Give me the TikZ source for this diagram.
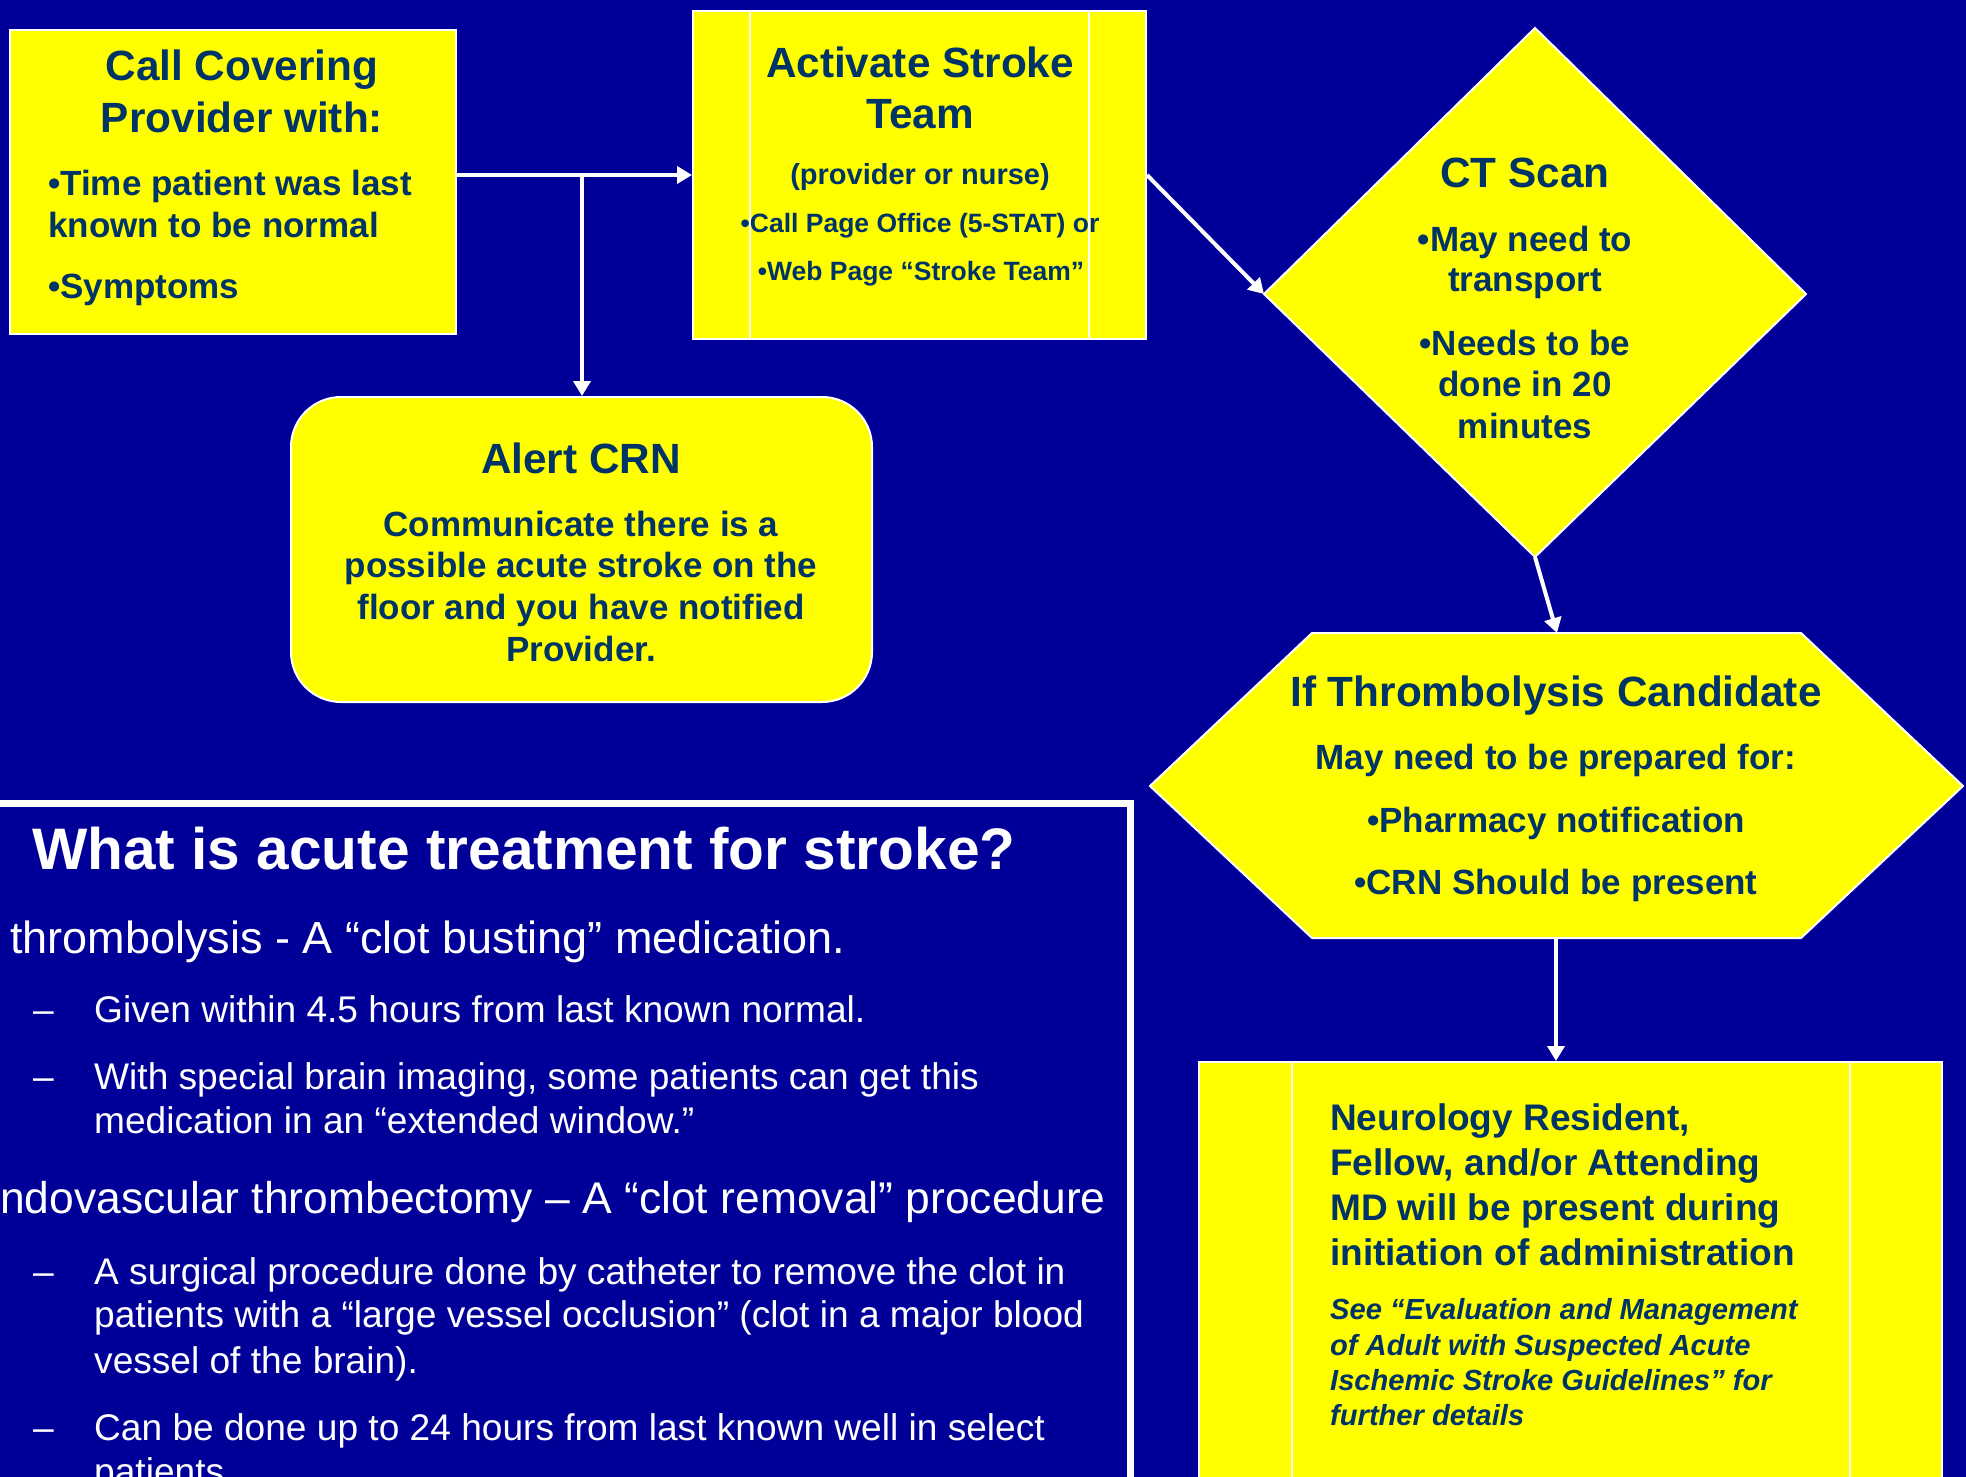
\documentclass[tikz,border=0pt]{standalone}
\usepackage{fontspec}
\setmainfont{Liberation Sans}
\usetikzlibrary{arrows.meta}
\definecolor{bgblue}{RGB}{0,0,153}
\definecolor{navy}{RGB}{0,51,102}
\definecolor{ylw}{RGB}{255,255,0}
\begin{document}
\begin{tikzpicture}[x=1pt,y=-1pt,
  ybox/.style={draw=white, line width=2pt, fill=ylw, inner sep=0pt},
  divline/.style={draw=white, line width=1.5pt},
  arr/.style={draw=white, line width=4pt, -{Triangle[length=15pt,width=17pt]}},
  txt/.style={inner sep=0pt, anchor=base, text=navy},
  hd/.style={txt, font=\fontsize{42.3pt}{50pt}\selectfont\bfseries},
  bd/.style={txt, font=\fontsize{35pt}{41pt}\selectfont\bfseries},
  sm/.style={txt, font=\fontsize{26.5pt}{32pt}\selectfont\bfseries},
  nb/.style={txt, anchor=base west, font=\fontsize{37pt}{45pt}\selectfont\bfseries},
  ni/.style={txt, anchor=base west, font=\fontsize{29.1pt}{35pt}\selectfont\bfseries\itshape},
  wt/.style={inner sep=0pt, anchor=base west, text=white},
  wtitle/.style={wt, font=\fontsize{58.6pt}{66pt}\selectfont\bfseries},
  wmain/.style={wt, font=\fontsize{45pt}{52pt}\selectfont},
  wmainb/.style={wt, font=\fontsize{44.4pt}{52pt}\selectfont},
  wsub/.style={wt, font=\fontsize{37.1pt}{44pt}\selectfont}
]
\useasboundingbox (0,0) rectangle (1966,1477);
\clip (0,0) rectangle (1966,1477);
\fill[bgblue] (0,0) rectangle (1966,1477);

% Call Covering Provider box
\node[ybox, minimum width=446pt, minimum height=304pt] (call) at (233,182) {};
\node[hd] (c1) at (242,81) {Call Covering};
\node[hd] (c2) at (242,133) {Provider with:};
\node[bd, anchor=base west] (c3) at (48,195) {•Time patient was last};
\node[bd, anchor=base west] (c4) at (48,237) {known to be normal};
\node[bd, anchor=base west] (c5) at (48,298) {•Symptoms};

% Activate Stroke Team box
\node[ybox, minimum width=453pt, minimum height=328pt] (act) at (919.5,175) {};
\draw[divline] (750,12) -- (750,338);
\draw[divline] (1089,12) -- (1089,338);
\node[hd] (a1) at (920,78) {Activate Stroke};
\node[hd] (a2) at (920,129) {Team};
\node[txt, font=\fontsize{29pt}{34pt}\selectfont\bfseries] (a3) at (920,185) {(provider or nurse)};
\node[sm] (a4) at (920,233) {•Call Page Office (5-STAT) or};
\node[sm] (a5) at (921,280) {•Web Page “Stroke Team”};

% CT Scan diamond
\coordinate (ctT) at (1535,28);
\coordinate (ctL) at (1264,294);
\coordinate (ctR) at (1806,294);
\coordinate (ctB) at (1535,557);
\filldraw[fill=ylw, draw=white, line width=2pt] (ctT) -- (ctR) -- (ctB) -- (ctL) -- cycle;
\node[hd] (ct1) at (1525,187) {CT Scan};
\node[bd] (ct2) at (1525,251) {•May need to};
\node[bd] (ct3) at (1525,291) {transport};
\node[bd] (ct4) at (1525,355) {•Needs to be};
\node[bd] (ct5) at (1525,396) {done in 20};
\node[bd] (ct6) at (1525,438) {minutes};

% Alert CRN rounded box
\node[ybox, rounded corners=50pt, minimum width=581pt, minimum height=305pt] (alert) at (581.5,549.5) {};
\node[hd] (al1) at (581,473) {Alert CRN};
\node[bd] (al2) at (581,536) {Communicate there is a};
\node[bd] (al3) at (581,577) {possible acute stroke on the};
\node[bd] (al4) at (581,619) {floor and you have notified};
\node[bd] (al5) at (581,661) {Provider.};

% Thrombolysis hexagon
\coordinate (hxT) at (1557,633);
\coordinate (hxB) at (1556,938);
\filldraw[fill=ylw, draw=white, line width=2pt] (1312,633) -- (1801,633) -- (1963,786) -- (1801,938) -- (1312,938) -- (1150,786) -- cycle;
\node[hd] (h1) at (1556,706) {If Thrombolysis Candidate};
\node[bd] (h2) at (1556,769) {May need to be prepared for:};
\node[bd] (h3) at (1556,832) {•Pharmacy notification};
\node[bd] (h4) at (1556,894) {•CRN Should be present};

% Neurology box
\node[ybox, minimum width=743pt, minimum height=460pt] (neuro) at (1570.5,1292) {};
\draw[divline] (1292,1063) -- (1292,1500);
\draw[divline] (1850,1063) -- (1850,1500);
\node[nb] (n1) at (1330,1130) {Neurology Resident,};
\node[nb] (n2) at (1330,1175) {Fellow, and/or Attending};
\node[nb] (n3) at (1330,1220) {MD will be present during};
\node[nb] (n4) at (1330,1265) {initiation of administration};
\node[ni] (n5) at (1330,1319) {See “Evaluation and Management};
\node[ni] (n6) at (1330,1355) {of Adult with Suspected Acute};
\node[ni] (n7) at (1330,1390) {Ischemic Stroke Guidelines” for};
\node[ni] (n8) at (1330,1425) {further details};

% Left info box
\draw[white, line width=7pt] (-20,803) -- (1130,803) -- (1130,1500);
\node[wtitle] (w1) at (32,869) {What is acute treatment for stroke?};
\node[wmain] (w2) at (10,953) {thrombolysis - A “clot busting” medication.};
\node[wsub] (d1) at (33,1022) {--};
\node[wsub] (w3) at (94,1022) {Given within 4.5 hours from last known normal.};
\node[wsub] (d2) at (33,1089) {--};
\node[wsub] (w4) at (94,1089) {With special brain imaging, some patients can get this};
\node[wsub] (w5) at (94,1133) {medication in an “extended window.”};
\node[wmainb] (w6) at (0,1213) {ndovascular thrombectomy -- A “clot removal” procedure};
\node[wsub] (d3) at (33,1284) {--};
\node[wsub] (w7) at (94,1284) {A surgical procedure done by catheter to remove the clot in};
\node[wsub] (w8) at (94,1327) {patients with a “large vessel occlusion” (clot in a major blood};
\node[wsub] (w9) at (94,1373) {vessel of the brain).};
\node[wsub] (d4) at (33,1440) {--};
\node[wsub] (w10) at (94,1440) {Can be done up to 24 hours from last known well in select};
\node[wsub] (w11) at (94,1484) {patients.};

% Connectors
\coordinate (branch) at (582,175);
\draw[arr] (call.east |- branch) -- (act.west |- branch);
\draw[arr] (branch) -- (alert.north -| branch);
\draw[arr] (act.east |- branch) -- (ctL);
\draw[arr] (ctB) -- (hxT);
\draw[arr] (hxB) -- (neuro.north -| hxB);
\end{tikzpicture}
\end{document}
